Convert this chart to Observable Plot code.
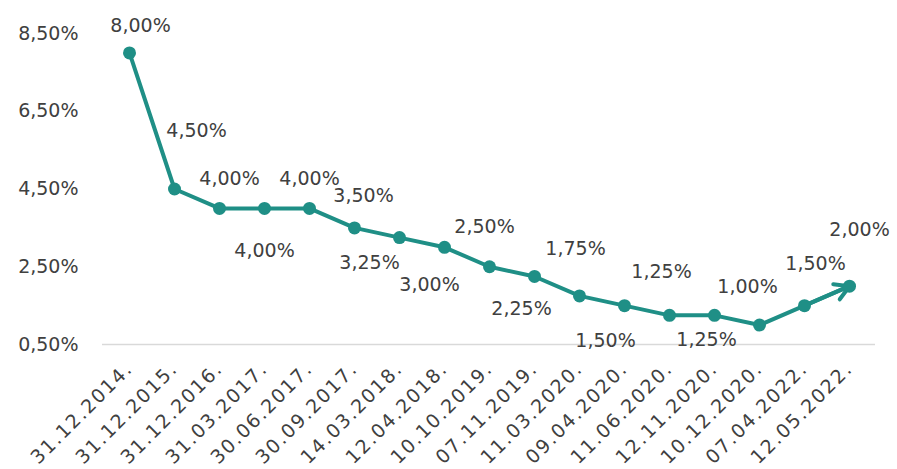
<!DOCTYPE html>
<html>
<head>
<meta charset="utf-8">
<script src="https://cdn.jsdelivr.net/npm/d3@7"></script>
<script src="https://cdn.jsdelivr.net/npm/@observablehq/plot@0.6"></script>
<style>
  html, body { margin: 0; padding: 0; background: #fff; }
  g[aria-label="x-axis tick label"] text { letter-spacing: 1.8px; }
</style>
</head>
<body>
<div id="chart"></div>
<script>
const dates = ["31.12.2014.", "31.12.2015.", "31.12.2016.", "31.03.2017.", "30.06.2017.", "30.09.2017.",
  "14.03.2018.", "12.04.2018.", "10.10.2019.", "07.11.2019.", "11.03.2020.", "09.04.2020.",
  "11.06.2020.", "12.11.2020.", "10.12.2020.", "07.04.2022.", "12.05.2022."];
const rates = [8.00, 4.50, 4.00, 4.00, 4.00, 3.50, 3.25, 3.00, 2.50, 2.25, 1.75, 1.50, 1.25, 1.25, 1.00, 1.50, 2.00];
const yTicks = [0.5, 2.5, 4.5, 6.5, 8.5];

// label placement relative to each point (pixels)
const labelDx = [11, 22, 10, 0, 0, 9, -30, -15, -5, -13, -4, -19, -8, -8, -12, 11, 10];
const labelDy = [-27, -58, -30, 42, -30, -32, 25, 38, -40, 32, -47, 35, -43, 25, -38, -42, -56];

const data = dates.map((d, i) => ({date: d, rate: rates[i]}));
const n = data.length;
const lastSegment = [{x1: dates[n - 2], y1: rates[n - 2], x2: dates[n - 1], y2: rates[n - 1]}];
const fmt = v => v.toFixed(2).replace(".", ",") + "%";
const teal = "#1f8f86";
const textColor = "#404040";

const marks = [
  Plot.ruleY([0.5], {stroke: "#d9d9d9", strokeWidth: 1.5}),
  Plot.axisY({ticks: yTicks, tickFormat: fmt, tickSize: 0, tickPadding: 24, fontSize: 19, label: null}),
  Plot.axisX({tickRotate: -45, tickSize: 0, tickPadding: 21, fontSize: 19, label: null}),
  Plot.line(data, {x: "date", y: "rate", stroke: teal, strokeWidth: 4, strokeLinejoin: "round"}),
  Plot.arrow(lastSegment, {x1: "x1", y1: "y1", x2: "x2", y2: "y2", stroke: teal, strokeWidth: 4, headLength: 8, headAngle: 60}),
  Plot.dot(data, {x: "date", y: "rate", r: 6.5, fill: teal}),
  ...data.map((d, i) => Plot.text([d], {
    x: "date", y: "rate", text: e => fmt(e.rate),
    dx: labelDx[i], dy: labelDy[i], fontSize: 19, fill: textColor
  }))
];

const chart = Plot.plot({
  width: 897,
  height: 469,
  marginLeft: 102,
  marginRight: 22,
  marginTop: 33,
  marginBottom: 125,
  x: {type: "point", domain: dates, padding: 0.5},
  y: {domain: [0.5, 8.5]},
  style: {fontFamily: "DejaVu Sans", color: textColor, background: "white"},
  marks
});
document.getElementById("chart").appendChild(chart);
</script>
</body>
</html>
